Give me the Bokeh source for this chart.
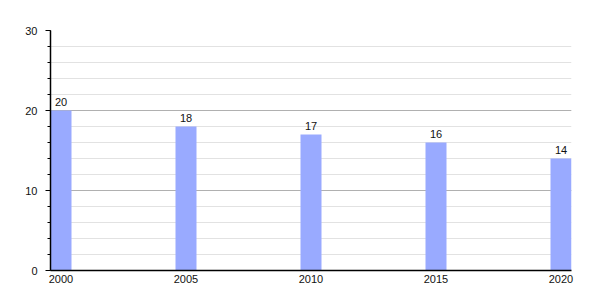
from bokeh.plotting import figure
from bokeh.models import Range1d, FixedTicker, SingleIntervalTicker, ColumnDataSource
from bokeh.core.properties import value
from bokeh.embed import file_html
from bokeh.resources import INLINE

years = [2000, 2005, 2010, 2015, 2020]
values = [20, 18, 17, 16, 14]
labels = [str(v) for v in values]

FONT = "Liberation Sans"

src = ColumnDataSource(dict(x=years, top=values, label=labels))

p = figure(width=600, height=300, output_backend="svg", toolbar_location=None,
           x_range=Range1d(2000 - 0.42, 2020 + 0.42), y_range=Range1d(0, 30),
           min_border_left=50, min_border_right=29, min_border_top=30, min_border_bottom=30)
p.outline_line_color = None
p.background_fill_color = "white"
p.border_fill_color = "white"

p.vbar(x="x", top="top", width=0.84, bottom=0, source=src,
       fill_color="#99aaff", line_color=None)
p.text(x="x", y="top", text="label", source=src, text_align="center",
       text_baseline="bottom", y_offset=-5, text_font=value(FONT),
       text_font_size="11px", text_color="#111111")

p.xgrid.grid_line_color = None
p.ygrid.grid_line_color = "#b0b0b0"
p.ygrid.minor_grid_line_color = "#e2e2e2"
p.ygrid.ticker = SingleIntervalTicker(interval=10, num_minor_ticks=5)

xa = p.xaxis[0]
xa.ticker = FixedTicker(ticks=years)
xa.major_tick_out = 0
xa.major_tick_in = 0
xa.minor_tick_out = 0
xa.axis_line_color = "black"
xa.axis_line_width = 1.5
xa.major_label_standoff = 4
xa.major_label_text_font = FONT
xa.major_label_text_font_size = "11px"
xa.major_label_text_color = "#111111"

ya = p.yaxis[0]
ya.ticker = SingleIntervalTicker(interval=10, num_minor_ticks=5)
ya.major_tick_out = 5
ya.major_tick_in = 0
ya.minor_tick_out = 3
ya.minor_tick_in = 0
ya.axis_line_color = "black"
ya.axis_line_width = 1.5
ya.major_tick_line_color = "black"
ya.minor_tick_line_color = "black"
ya.major_label_standoff = 8
ya.major_label_text_font = FONT
ya.major_label_text_font_size = "11px"
ya.major_label_text_color = "#111111"

open("out.html", "w").write(file_html(p, INLINE))
